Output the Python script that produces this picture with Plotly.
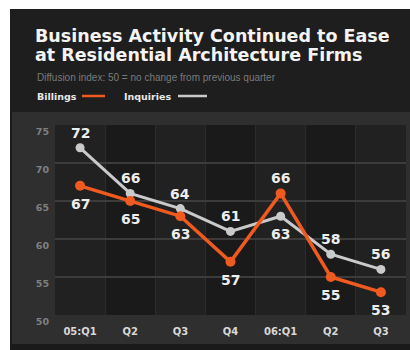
import plotly.graph_objects as go

# Quarterly AIA diffusion indexes for residential architecture firms
quarters = ["05:Q1", "Q2", "Q3", "Q4", "06:Q1", "Q2 ", "Q3 "]
tick_text = ["05:Q1", "Q2", "Q3", "Q4", "06:Q1", "Q2", "Q3"]
billings = [67, 65, 63, 57, 66, 55, 53]
inquiries = [72, 66, 64, 61, 63, 58, 56]
y_ticks = [50, 55, 60, 65, 70, 75]

# label placement: +1 above the point, -1 below
billings_side = [-1, -1, -1, -1, 1, -1, -1]
inquiries_side = [1, 1, 1, 1, -1, 1, 1]

ORANGE = "#ee5a1f"
GREY = "#cacaca"
BOLD = "DejaVu Sans"

W, H = 410, 350
L, R, T, B = 55, 4, 125, 35
PW, PH = W - L - R, H - T - B


def px(x):
    return (x - L) / PW


def py(y):
    return (H - B - y) / PH


def rect(x0, y0, x1, y1, color):
    return dict(type="rect", xref="paper", yref="paper",
                x0=px(x0), x1=px(x1), y0=py(y1), y1=py(y0),
                fillcolor=color, line=dict(width=0), layer="below")


fig = go.Figure()

fig.add_trace(go.Scatter(
    x=quarters, y=inquiries, mode="lines+markers", name="Inquiries",
    line=dict(color=GREY, width=3), marker=dict(size=9, color=GREY),
    hoverinfo="x+y"))
fig.add_trace(go.Scatter(
    x=quarters, y=billings, mode="lines+markers", name="Billings",
    line=dict(color=ORANGE, width=3.5), marker=dict(size=10, color=ORANGE),
    hoverinfo="x+y"))

shapes = [
    rect(0, 0, 10, H, "#ffffff"),
    rect(0, 0, W, 9, "#ffffff"),
    rect(10, 9, W, 112, "#1e1e1e"),
    rect(10, 344, W, H, "#1a1a1a"),
    rect(10, 112, 12, 344, "#1c1c1c"),
]
# alternating column shading inside the plot
for i, _ in enumerate(quarters):
    shapes.append(dict(type="rect", xref="x", yref="paper",
                       x0=i - 0.5, x1=i + 0.5, y0=0, y1=1,
                       fillcolor="#212121" if i % 2 == 0 else "#1a1a1a",
                       line=dict(width=0), layer="below"))

# legend: label followed by a line sample
shapes.append(dict(type="line", xref="paper", yref="paper",
                   x0=px(82), x1=px(105), y0=py(96), y1=py(96),
                   line=dict(color=ORANGE, width=2.5)))
shapes.append(dict(type="line", xref="paper", yref="paper",
                   x0=px(178), x1=px(207), y0=py(96), y1=py(96),
                   line=dict(color=GREY, width=2.5)))

title_lines = ["Business Activity Continued to Ease",
               "at Residential Architecture Firms"]

annotations = []
for line, ypix in zip(title_lines, (36, 55)):
    annotations.append(dict(
        text=f"<b>{line}</b>", xref="paper", yref="paper",
        x=px(33), y=py(ypix), xanchor="left", yanchor="middle",
        showarrow=False,
        font=dict(family=BOLD, size=17.5, color="#f4f4f4")))

annotations += [
    dict(text="Diffusion index: 50 = no change from previous quarter",
         xref="paper", yref="paper", x=px(35), y=py(77),
         xanchor="left", yanchor="middle", showarrow=False,
         font=dict(family="Liberation Sans", size=10, color="#7a7a7a")),
    dict(text="<b>Billings</b>", xref="paper", yref="paper",
         x=px(35), y=py(96), xanchor="left", yanchor="middle",
         showarrow=False, font=dict(family=BOLD, size=9.5, color="#e8e8e8")),
    dict(text="<b>Inquiries</b>", xref="paper", yref="paper",
         x=px(122), y=py(96), xanchor="left", yanchor="middle",
         showarrow=False, font=dict(family=BOLD, size=9.5, color="#e8e8e8")),
]

# value labels
for series, sides in ((billings, billings_side), (inquiries, inquiries_side)):
    for q, v, s in zip(quarters, series, sides):
        annotations.append(dict(
            x=q, y=v, text=f"<b>{v}</b>", showarrow=False,
            yshift=15 if s > 0 else -18,
            font=dict(family=BOLD, size=14, color="#eeeeee")))

fig.update_layout(
    width=W, height=H,
    margin=dict(l=L, r=R, t=T, b=B),
    paper_bgcolor="#2f2f2f",
    plot_bgcolor="#1e1e1e",
    showlegend=False,
    shapes=shapes,
    annotations=annotations,
    xaxis=dict(
        type="category", range=[-0.5, len(quarters) - 0.5],
        tickvals=quarters, ticktext=[f"<b>{t}</b>" for t in tick_text],
        tickson="boundaries", ticks="", showgrid=True,
        gridcolor="#2c2c2c", gridwidth=1, zeroline=False, showline=False,
        ticklabelstandoff=9,
        tickfont=dict(family=BOLD, size=10, color="#d8d8d8")),
    yaxis=dict(
        range=[50, 75], tickvals=y_ticks,
        ticktext=[f"<b>{t}</b>" for t in y_ticks], ticks="",
        ticklabelposition="outside bottom", ticklabelstandoff=5,
        showgrid=True, gridcolor="#3c3c3c", gridwidth=1.5,
        zeroline=False, showline=False,
        tickfont=dict(family=BOLD, size=9.5, color="#808080")),
)

fig.write_html("out.html")
